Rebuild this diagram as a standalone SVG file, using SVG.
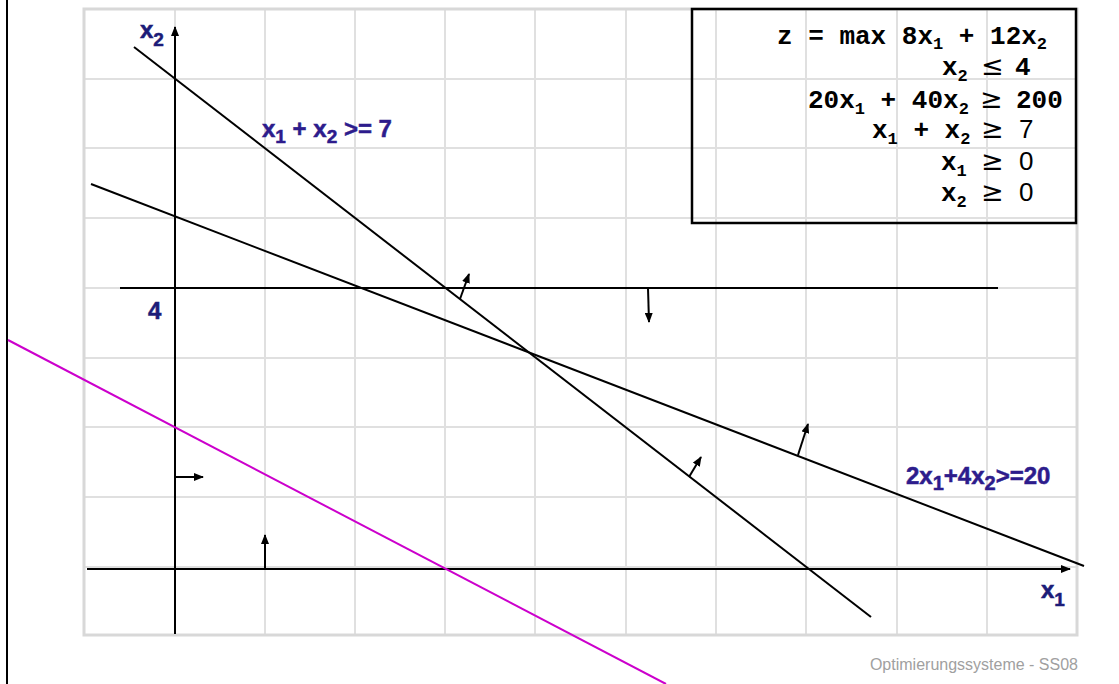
<svg xmlns="http://www.w3.org/2000/svg" width="1119" height="684" viewBox="0 0 1119 684">
<style>
.grid{stroke:#e0e0e0;stroke-width:2;fill:none}
.border{stroke:#d8d8d8;stroke-width:3;fill:none}
.ln{stroke:#000;stroke-width:2;fill:none}
.arr{stroke:#000;stroke-width:2;fill:none;marker-end:url(#ah)}
.obj{stroke:#cc00cc;stroke-width:2;fill:none}
.lbl{font-family:"Liberation Sans",Arial,sans-serif;font-weight:bold;font-size:24px;fill:#2d1c8c;stroke:#2d1c8c;stroke-width:0.5}
.ax{font-family:"Liberation Sans",Arial,sans-serif;font-weight:bold;font-size:24px;fill:#1c1c78;stroke:#1c1c78;stroke-width:0.5}
.mono{font-family:"Liberation Mono","Courier New",monospace;font-weight:bold;font-size:26px;fill:#000}
.sym{font-family:"Liberation Sans",Arial,sans-serif;font-weight:normal;font-size:26px}
.rel{font-family:"DejaVu Sans",sans-serif;font-weight:normal;font-size:27px}
.foot{font-family:"Liberation Sans",Arial,sans-serif;font-size:16px;fill:#a0a0a0}
</style>
<defs>
<marker id="ah" viewBox="0 0 10 8" refX="9" refY="4" markerWidth="10" markerHeight="8" orient="auto" markerUnits="userSpaceOnUse">
<path d="M0,0 L10,4 L0,8 z" fill="#000"/>
</marker>
</defs>
<rect width="1119" height="684" fill="#fff"/>
<g id="grid">
<path class="grid" d="M175,9V635M265,9V635M355,9V635M445,9V635M535,9V635M626,9V635M716,9V635M806,9V635M897,9V635M987,9V635"/>
<path class="grid" d="M84,79H1077M84,148H1077M84,218H1077M84,288H1077M84,358H1077M84,427H1077M84,497H1077M84,567H1077"/>
<rect class="border" x="84" y="9" width="993" height="626"/>
</g>
<line class="ln" x1="7" y1="0" x2="7" y2="684"/>
<g id="axes">
<line class="arr" x1="175" y1="634" x2="175" y2="27"/>
<line class="arr" x1="87" y1="569" x2="1070" y2="569"/>
</g>
<g id="connectors">
<line id="c-x2le4" class="ln" x1="120" y1="288" x2="998" y2="288"/>
<line id="c-sum7" class="ln" x1="134" y1="47" x2="871" y2="617"/>
<line id="c-2x4x20" class="ln" x1="91" y1="184" x2="1084" y2="566"/>
<line id="c-obj" class="obj" x1="8" y1="340" x2="666" y2="684"/>
<line class="arr" x1="175" y1="477" x2="203" y2="477"/>
<line class="arr" x1="265" y1="569" x2="265" y2="535"/>
<line class="arr" x1="648" y1="288" x2="649" y2="322"/>
<line class="arr" x1="460" y1="299" x2="469" y2="274"/>
<line class="arr" x1="689" y1="477" x2="701" y2="457"/>
<line class="arr" x1="798" y1="455" x2="808" y2="424"/>
</g>
<g id="label-x2"><text class="ax" x="140" y="38">x<tspan font-size="19" dy="8">2</tspan></text></g>
<g id="label-x1"><text class="ax" x="1041" y="598">x<tspan font-size="19" dy="8">1</tspan></text></g>
<g id="label-4"><text class="ax" x="148" y="319" font-size="25">4</text></g>
<g id="label-sum7"><text class="lbl" x="262" y="137">x<tspan font-size="19" dy="6">1</tspan><tspan dy="-6"> + x</tspan><tspan font-size="19" dy="6">2</tspan><tspan dy="-6"> &gt;= 7</tspan></text></g>
<g id="label-2x4x20"><text class="lbl" x="906" y="484" font-size="25">2x<tspan font-size="20" dy="6">1</tspan><tspan dy="-6">+4x</tspan><tspan font-size="20" dy="6">2</tspan><tspan dy="-6">&gt;=20</tspan></text></g>
<g id="model">
<rect x="692" y="9" width="384" height="214" fill="none" stroke="#000" stroke-width="2.5"/>
<text class="mono" x="777" y="44">z = max 8x<tspan font-size="17" dy="5">1</tspan><tspan dy="-5"> + 12x</tspan><tspan font-size="17" dy="5">2</tspan></text>
<text class="mono" x="942" y="75">x<tspan font-size="17" dy="6">2</tspan><tspan class="rel" x="981" dy="-6">≤</tspan><tspan x="1015">4</tspan></text>
<text class="mono" x="808" y="108">20x<tspan font-size="17" dy="6">1</tspan><tspan dy="-6"> + 40x</tspan><tspan font-size="17" dy="6">2</tspan><tspan class="rel" x="980" dy="-6">≥</tspan><tspan x="1016">200</tspan></text>
<text class="mono" x="872" y="138">x<tspan font-size="17" dy="6">1</tspan><tspan dy="-6"> + x</tspan><tspan font-size="17" dy="6">2</tspan><tspan class="rel" x="981" dy="-6">≥</tspan><tspan class="sym" x="1019">7</tspan></text>
<text class="mono" x="941" y="170">x<tspan font-size="17" dy="6">1</tspan><tspan class="rel" x="981" dy="-6">≥</tspan><tspan class="sym" x="1019">0</tspan></text>
<text class="mono" x="941" y="201">x<tspan font-size="17" dy="6">2</tspan><tspan class="rel" x="981" dy="-6">≥</tspan><tspan class="sym" x="1019">0</tspan></text>
</g>
<text class="foot" x="1078" y="670" text-anchor="end">Optimierungssysteme - SS08</text>
</svg>
